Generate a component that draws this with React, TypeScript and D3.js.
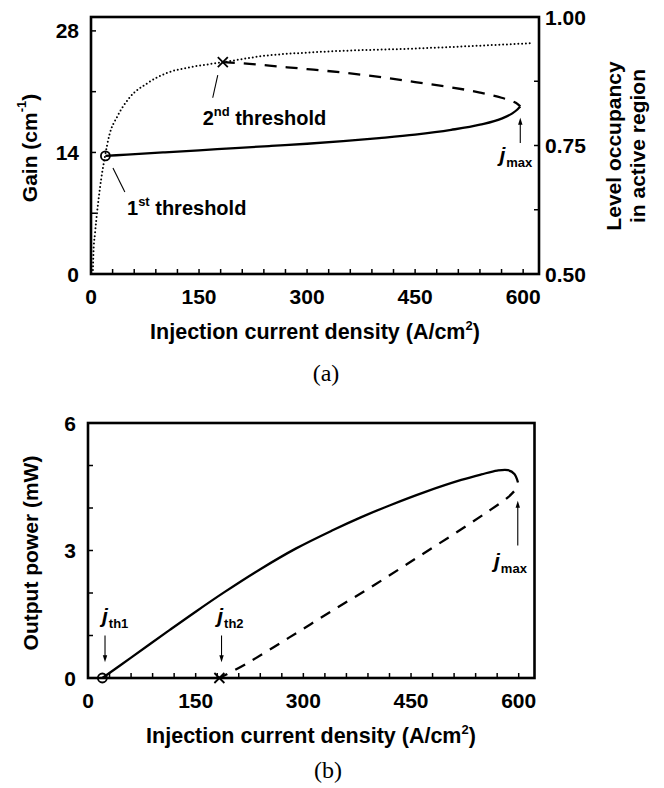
import * as d3 from "d3";

// ---- data ----
// (a) gain vs injection current density
const gainSolidJ = [20, 50, 100, 150, 200, 250, 300, 350, 400, 450, 500, 540, 570, 585, 592, 596];
const gainSolidG = [13.6, 13.75, 14.0, 14.25, 14.5, 14.75, 15.0, 15.3, 15.65, 16.05, 16.6, 17.2, 17.9, 18.5, 18.95, 19.3];
const gainDashJ = [183, 220, 260, 300, 350, 400, 450, 500, 540, 570, 585, 592, 596];
const gainDashG = [24.4, 24.2, 23.9, 23.6, 23.2, 22.7, 22.1, 21.5, 20.9, 20.3, 19.9, 19.6, 19.3];
// (a) level occupancy (right axis)
const occJ = [2.5, 3.5, 5.5, 12.5, 19.4, 26, 36, 54, 78, 105, 137, 183, 238, 317, 456, 611];
const occV = [0.5, 0.545, 0.578, 0.668, 0.729, 0.773, 0.805, 0.844, 0.871, 0.891, 0.902, 0.912, 0.924, 0.932, 0.939, 0.949];
// (b) output power
const powSolidJ = [20, 60, 113, 150, 190, 240, 290, 340, 380, 420, 470, 520, 548, 570, 585, 594, 599];
const powSolidP = [0, 0.48, 1.12, 1.56, 2.02, 2.56, 3.05, 3.47, 3.78, 4.06, 4.38, 4.66, 4.79, 4.88, 4.89, 4.8, 4.6];
const powDashJ = [183, 220, 280, 340, 400, 460, 520, 560, 585, 594];
const powDashP = [0, 0.33, 0.95, 1.58, 2.2, 2.85, 3.5, 3.95, 4.25, 4.4];

const thresholdJ = [20, 183];
const thresholdGain = [13.6, 24.4];

const xTickLabels = [0, 150, 300, 450, 600];
const gainTickLabels = [0, 14, 28];
const occTickLabels = [0.5, 0.75, 1.0];
const powerTickLabels = [0, 3, 6];

const FONT = "'Liberation Sans', Arial, sans-serif";

function pts(xs: number[], ys: number[]) {
  return xs.map((x, i) => [x, ys[i]] as [number, number]);
}

function XMark({ cx, cy, s }: { cx: number; cy: number; s: number }) {
  return (
    <g stroke="black" strokeWidth={1.8}>
      <line x1={cx - s} y1={cy - s} x2={cx + s} y2={cy + s} />
      <line x1={cx - s} y1={cy + s} x2={cx + s} y2={cy - s} />
    </g>
  );
}

function Arrow({ x, y1, y2 }: { x: number; y1: number; y2: number }) {
  // arrow from y1 to tip at y2
  const dir = y2 < y1 ? 1 : -1;
  return (
    <g>
      <line x1={x} y1={y1} x2={x} y2={y2 + dir * 5} stroke="black" strokeWidth={1.1} />
      <path d={`M${x},${y2} L${x - 2.2},${y2 + dir * 7} L${x + 2.2},${y2 + dir * 7} Z`} fill="black" />
    </g>
  );
}

function JLabel({ x, y, sub }: { x: number; y: number; sub: string }) {
  return (
    <text x={x} y={y} fontFamily={FONT} fontWeight="bold" fontSize={21}>
      <tspan fontStyle="italic">j</tspan>
      <tspan fontSize={13} dy={5} dx={1}>{sub}</tspan>
    </text>
  );
}

function BottomAxis({ x, y0, y1 }: { x: d3.ScaleLinear<number, number>; y0: number; y1: number }) {
  const minor = d3.range(0, 601, 30);
  return (
    <g>
      {minor.map((t) => (
        <line key={t} x1={x(t)} x2={x(t)} y1={y0} y2={y0 - 5} stroke="black" strokeWidth={1.5} />
      ))}
      {xTickLabels.map((t) => (
        <text key={t} x={x(t)} y={y1} textAnchor="middle" dominantBaseline="central"
          fontFamily={FONT} fontWeight="bold" fontSize={21}>{t}</text>
      ))}
    </g>
  );
}

function App() {
  // panel (a)
  const xa = d3.scaleLinear().domain([0, 622]).range([91, 539]);
  const gain = d3.scaleLinear().domain([0, 29.6]).range([274, 17]);
  const occ = d3.scaleLinear().domain([0.5, 1.0]).range([274, 17]);
  // panel (b)
  const xb = d3.scaleLinear().domain([0, 622]).range([88, 534.5]);
  const pw = d3.scaleLinear().domain([0, 6]).range([678, 423]);

  const lineA = d3.line<[number, number]>().x((d) => xa(d[0])).y((d) => gain(d[1])).curve(d3.curveMonotoneX);
  const lineOcc = d3.line<[number, number]>().x((d) => xa(d[0])).y((d) => occ(d[1])).curve(d3.curveMonotoneX);
  const lineB = d3.line<[number, number]>().x((d) => xb(d[0])).y((d) => pw(d[1])).curve(d3.curveCatmullRom.alpha(0.5));

  const [xa0, xa1] = xa.range();
  const [ga0, ga1] = gain.range();
  const [xb0, xb1] = xb.range();
  const [pb0, pb1] = pw.range();

  return (
    <svg width={664} height={788} style={{ position: "absolute", left: 0, top: 0, background: "white" }}>
      {/* ===== panel (a) ===== */}
      <path d={lineOcc(pts(occJ, occV)) || ""} fill="none" stroke="black" strokeWidth={2}
        strokeDasharray="0 3.8" strokeLinecap="round" />
      <path d={lineA(pts(gainSolidJ, gainSolidG)) || ""} fill="none" stroke="black" strokeWidth={2.3} />
      <path d={lineA(pts(gainDashJ, gainDashG)) || ""} fill="none" stroke="black" strokeWidth={2.3}
        strokeDasharray="12 9" />
      <circle cx={xa(thresholdJ[0])} cy={gain(thresholdGain[0])} r={4.5} fill="none" stroke="black" strokeWidth={1.8} />
      <XMark cx={xa(thresholdJ[1])} cy={gain(thresholdGain[1])} s={5} />

      <rect x={xa0} y={ga1} width={xa1 - xa0} height={ga0 - ga1} fill="none" stroke="black" strokeWidth={2.6} />
      <BottomAxis x={xa} y0={ga0} y1={296} />
      {d3.range(0, 29, 7).map((t) => (
        <line key={t} x1={xa0} x2={xa0 + 5} y1={gain(t)} y2={gain(t)} stroke="black" strokeWidth={1.5} />
      ))}
      {gainTickLabels.map((t) => (
        <text key={t} x={xa0 - 12} y={gain(t)} textAnchor="end" dominantBaseline="central"
          fontFamily={FONT} fontWeight="bold" fontSize={21}>{t}</text>
      ))}
      {d3.range(0.5, 1.01, 0.125).map((t) => (
        <line key={t} x1={xa1} x2={xa1 - 5} y1={occ(t)} y2={occ(t)} stroke="black" strokeWidth={1.5} />
      ))}
      {occTickLabels.map((t) => (
        <text key={t} x={xa1 + 6} y={occ(t)} textAnchor="start" dominantBaseline="central"
          fontFamily={FONT} fontWeight="bold" fontSize={21}>{t.toFixed(2)}</text>
      ))}

      {/* annotations (a) */}
      <line x1={xa(30.5)} y1={gain(12.2)} x2={xa(47)} y2={gain(9.45)} stroke="black" strokeWidth={1.1} />
      <text x={xa(50)} y={gain(6.8)} fontFamily={FONT} fontWeight="bold" fontSize={20}>
        1<tspan fontSize={13} dy={-9}>st</tspan><tspan dy={9}> threshold</tspan>
      </text>
      <line x1={xa(176)} y1={gain(22.9)} x2={xa(169)} y2={gain(20.3)} stroke="black" strokeWidth={1.1} />
      <text x={xa(155)} y={gain(17.2)} fontFamily={FONT} fontWeight="bold" fontSize={20}>
        2<tspan fontSize={13} dy={-9}>nd</tspan><tspan dy={9}> threshold</tspan>
      </text>
      <Arrow x={xa(596)} y1={gain(15.1)} y2={gain(18.0)} />
      <JLabel x={xa(567)} y={gain(12.9)} sub="max" />

      {/* axis titles (a) */}
      <text transform="translate(29,148) rotate(-90)" textAnchor="middle" dominantBaseline="central"
        fontFamily={FONT} fontWeight="bold" fontSize={21}>
        Gain (cm<tspan fontSize={13} dy={-8}>-1</tspan><tspan dy={8}>)</tspan>
      </text>
      <text transform="translate(621,146) rotate(-90)" textAnchor="middle"
        fontFamily={FONT} fontWeight="bold" fontSize={21}>Level occupancy</text>
      <text transform="translate(645,146) rotate(-90)" textAnchor="middle"
        fontFamily={FONT} fontWeight="bold" fontSize={21}>in active region</text>
      <text x={315} y={339} textAnchor="middle" fontFamily={FONT} fontWeight="bold" fontSize={21.5}>
        Injection current density (A/cm<tspan fontSize={13} dy={-9}>2</tspan><tspan dy={9}>)</tspan>
      </text>
      <text x={326} y={381} textAnchor="middle" fontFamily="'Liberation Serif', 'Times New Roman', serif" fontSize={24}>(a)</text>

      {/* ===== panel (b) ===== */}
      <path d={lineB(pts(powSolidJ, powSolidP)) || ""} fill="none" stroke="black" strokeWidth={2.3} />
      <path d={lineB(pts(powDashJ, powDashP)) || ""} fill="none" stroke="black" strokeWidth={2.3}
        strokeDasharray="11 9" strokeDashoffset={-18} />
      <circle cx={xb(thresholdJ[0])} cy={pw(0)} r={4.5} fill="none" stroke="black" strokeWidth={1.8} />
      <XMark cx={xb(thresholdJ[1])} cy={pw(0)} s={5} />

      <rect x={xb0} y={pb1} width={xb1 - xb0} height={pb0 - pb1} fill="none" stroke="black" strokeWidth={2.6} />
      <BottomAxis x={xb} y0={pb0} y1={700} />
      {d3.range(0, 7, 1).map((t) => (
        <line key={t} x1={xb0} x2={xb0 + 5} y1={pw(t)} y2={pw(t)} stroke="black" strokeWidth={1.5} />
      ))}
      {powerTickLabels.map((t) => (
        <text key={t} x={xb0 - 12} y={pw(t)} textAnchor="end" dominantBaseline="central"
          fontFamily={FONT} fontWeight="bold" fontSize={21}>{t}</text>
      ))}

      {/* annotations (b) */}
      <JLabel x={xb(19.5)} y={pw(1.29)} sub="th1" />
      <Arrow x={xb(23.7)} y1={pw(1.0)} y2={pw(0.37)} />
      <JLabel x={xb(180)} y={pw(1.29)} sub="th2" />
      <Arrow x={xb(186)} y1={pw(1.0)} y2={pw(0.37)} />
      <Arrow x={xb(598.7)} y1={pw(3.12)} y2={pw(4.17)} />
      <JLabel x={xb(565.6)} y={pw(2.58)} sub="max" />

      {/* axis titles (b) */}
      <text transform="translate(30,553) rotate(-90)" textAnchor="middle" dominantBaseline="central"
        fontFamily={FONT} fontWeight="bold" fontSize={21}>Output power (mW)</text>
      <text x={311} y={743} textAnchor="middle" fontFamily={FONT} fontWeight="bold" fontSize={21.5}>
        Injection current density (A/cm<tspan fontSize={13} dy={-9}>2</tspan><tspan dy={9}>)</tspan>
      </text>
      <text x={328} y={778} textAnchor="middle" fontFamily="'Liberation Serif', 'Times New Roman', serif" fontSize={24}>(b)</text>
    </svg>
  );
}

export default App;
